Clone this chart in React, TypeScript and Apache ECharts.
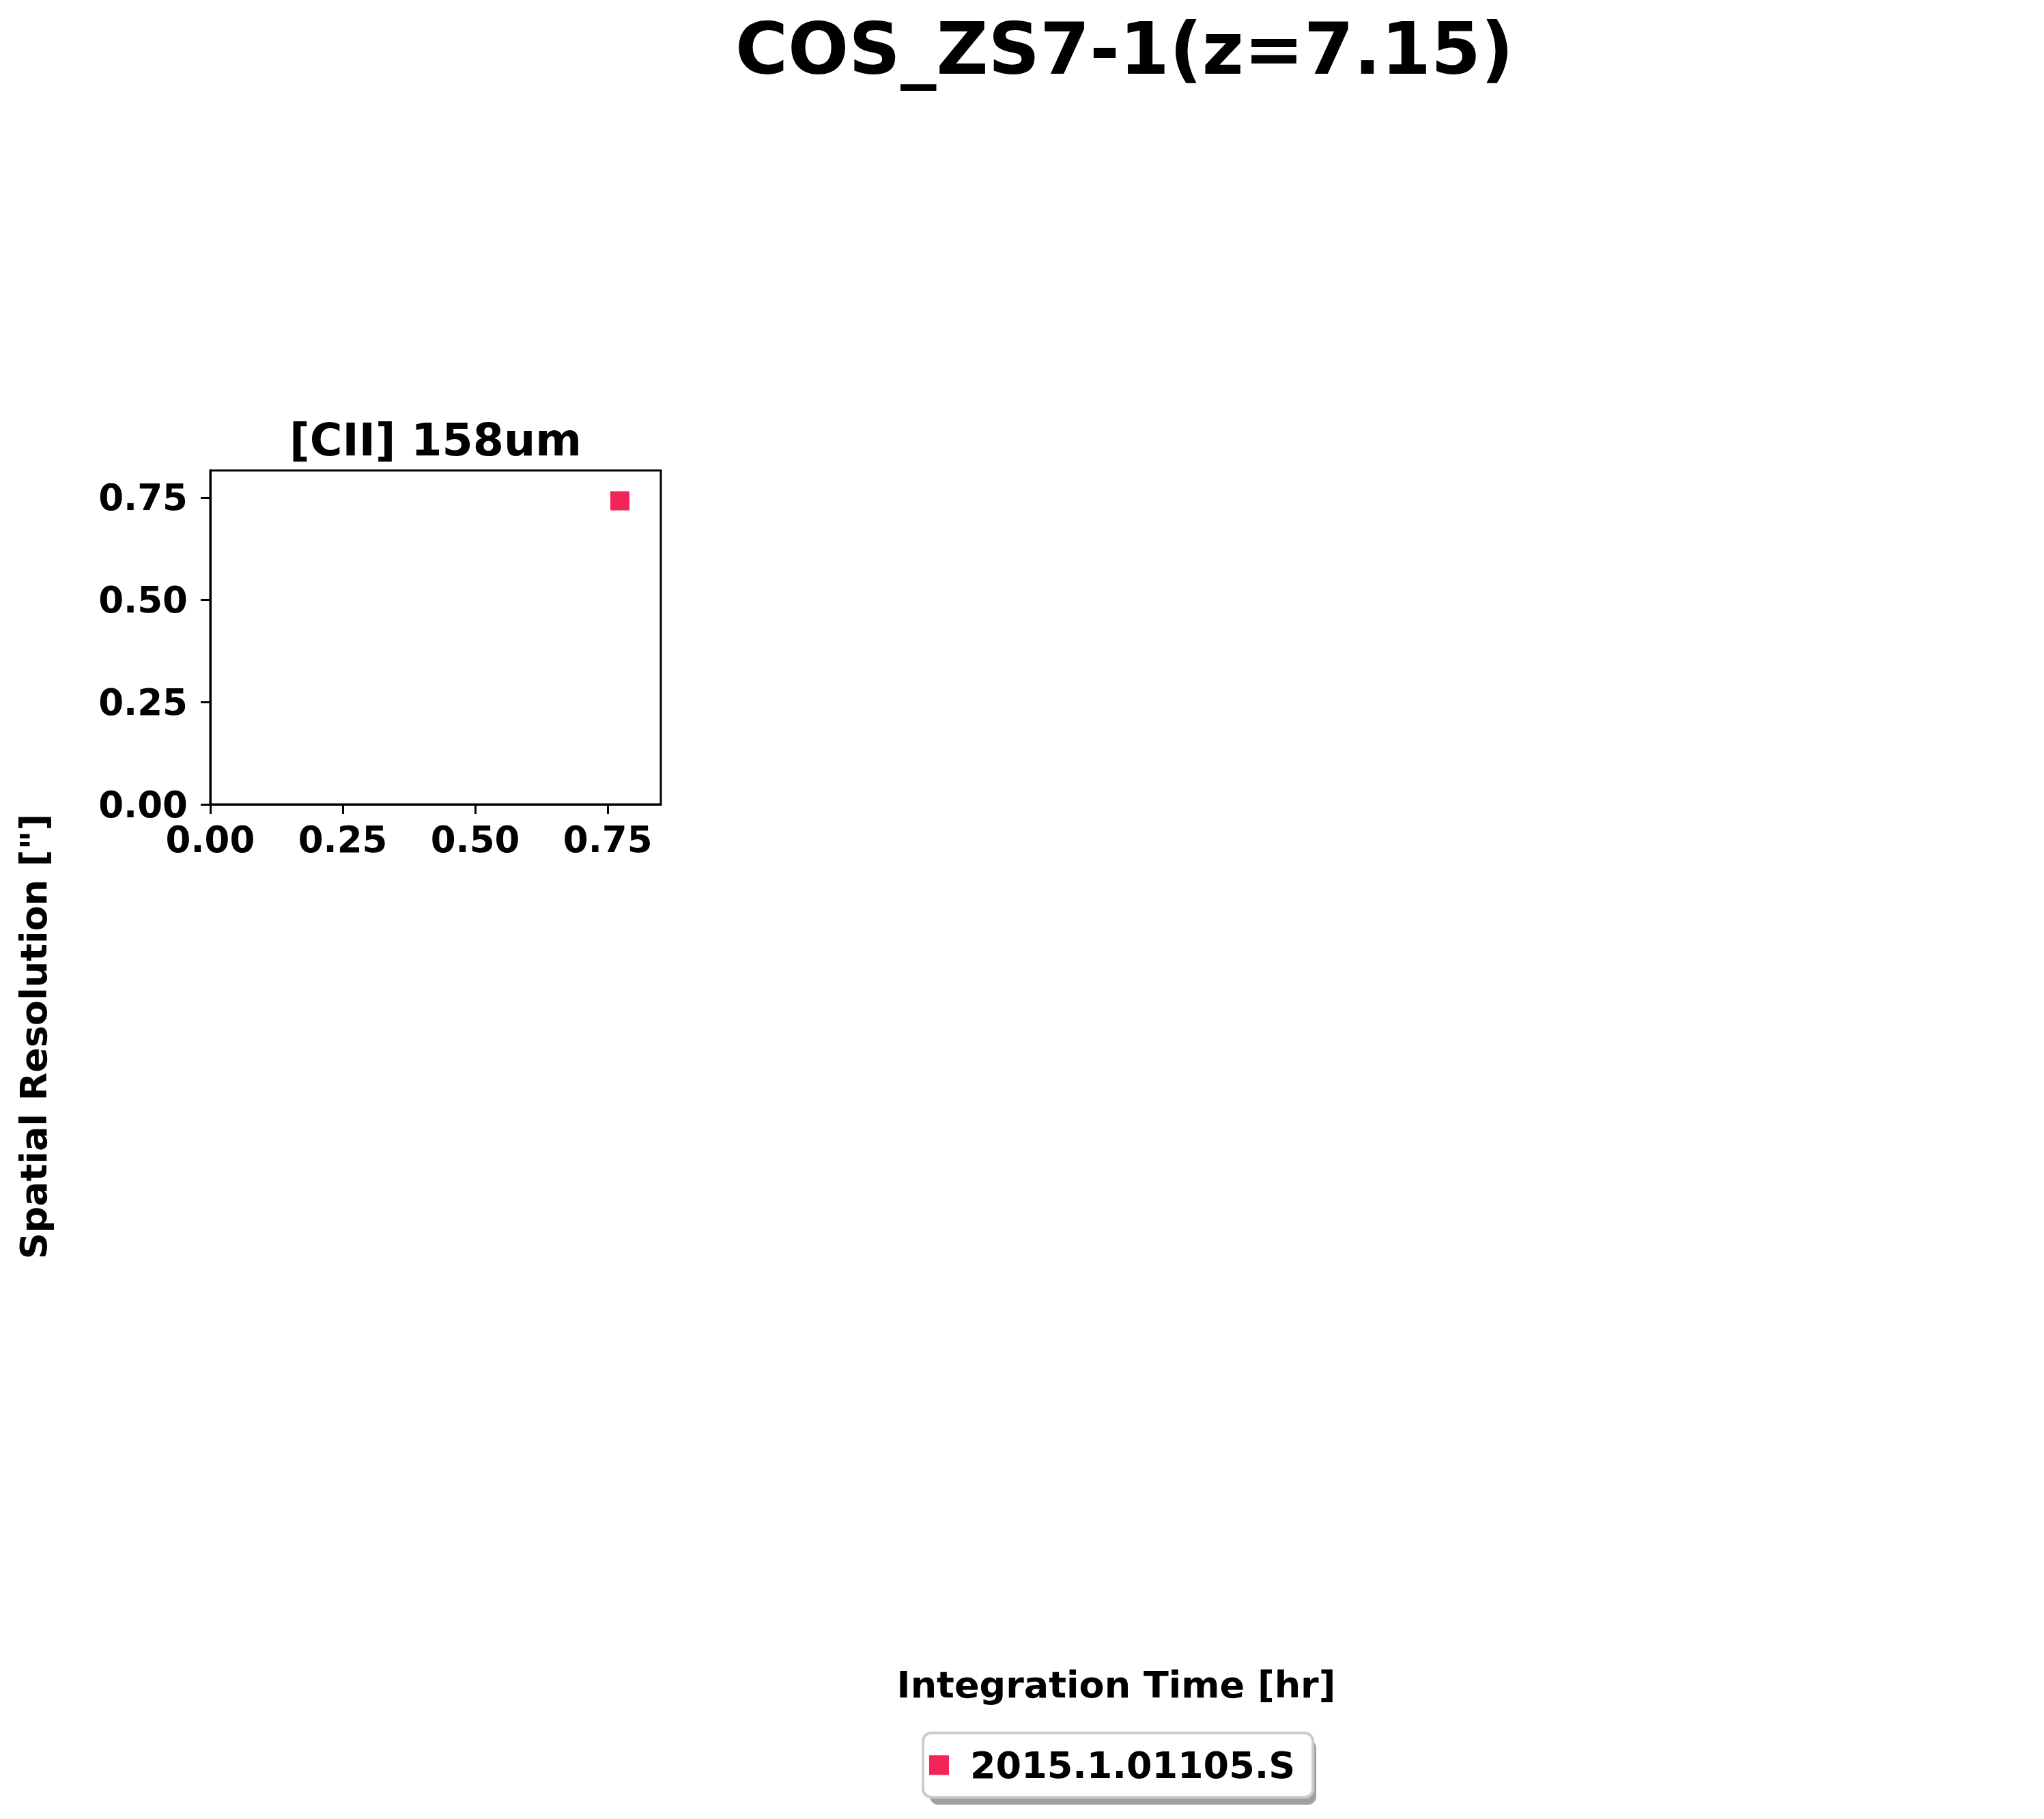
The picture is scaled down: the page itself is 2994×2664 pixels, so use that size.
import React, { useEffect, useRef } from "react";
import * as echarts from "echarts";

// ---- data ----
const FIG_TITLE = "COS_ZS7-1(z=7.15)";
const PANEL_TITLE = "[CII] 158um";
const X_LABEL = "Integration Time [hr]";
const Y_LABEL = 'Spatial Resolution ["]';
const SERIES_NAMES = ["2015.1.01105.S"];
const INTEGRATION_TIME = [0.773];
const RESOLUTION = [0.7425];
const X_TICKS = [0, 0.25, 0.5, 0.75];
const Y_TICKS = [0, 0.25, 0.5, 0.75];
const MARKER_COLOR = "#F42456";

const FONT = "DejaVu Sans";

export default function App() {
  const ref = useRef<HTMLDivElement>(null);

  useEffect(() => {
    document.body.style.margin = "0";
    document.body.style.overflow = "hidden";
    if (!ref.current) return;
    const chart = echarts.init(ref.current, undefined, { renderer: "svg" });

    const xMax = Math.max(...INTEGRATION_TIME) * 1.1;
    const yMax = Math.max(...RESOLUTION) * 1.1;
    const fmt = (v: number) => {
      const ok = X_TICKS.concat(Y_TICKS).some((t) => Math.abs(t - v) < 1e-6);
      return ok ? v.toFixed(2) : "";
    };
    const labelStyle = {
      color: "#000",
      fontFamily: FONT,
      fontWeight: "bold" as const,
      fontSize: 53,
      lineHeight: 53,
    };

    const option: any = {
      animation: false,
      backgroundColor: "#ffffff",
      grid: {
        left: 308,
        top: 689,
        width: 660,
        height: 489,
        show: true,
        borderColor: "#000",
        borderWidth: 3,
        backgroundColor: "transparent",
        containLabel: false,
      },
      xAxis: {
        type: "value",
        min: 0,
        max: xMax,
        interval: 0.25,
        splitLine: { show: false },
        axisLine: { show: true, onZero: false, lineStyle: { color: "#000", width: 3 } },
        axisTick: {
          show: true,
          length: 14,
          customValues: X_TICKS,
          lineStyle: { color: "#000", width: 3 },
        },
        axisLabel: {
          ...labelStyle,
          customValues: X_TICKS,
          margin: 25,
          formatter: fmt,
        },
      },
      yAxis: {
        type: "value",
        min: 0,
        max: yMax,
        interval: 0.25,
        splitLine: { show: false },
        axisLine: { show: true, onZero: false, lineStyle: { color: "#000", width: 3 } },
        axisTick: {
          show: true,
          length: 14,
          customValues: Y_TICKS,
          lineStyle: { color: "#000", width: 3 },
        },
        axisLabel: {
          ...labelStyle,
          customValues: Y_TICKS,
          margin: 33,
          formatter: fmt,
        },
      },
      legend: {
        show: true,
        data: SERIES_NAMES,
        left: 1352,
        top: 2538,
        orient: "horizontal",
        icon: "rect",
        itemWidth: 29,
        itemHeight: 29,
        padding: [20, 26, 20, 9],
        itemStyle: { opacity: 1 },
        textStyle: {
          fontFamily: FONT,
          fontWeight: "bold",
          fontSize: 54,
          color: "#000",
          padding: [0, 0, 0, 26],
        },
        backgroundColor: "#ffffff",
        borderColor: "#cccccc",
        borderWidth: 4,
        borderRadius: 12,
        z: 10,
      },
      series: SERIES_NAMES.map((name) => ({
        type: "scatter",
        name,
        data: INTEGRATION_TIME.map((x, i) => [x, RESOLUTION[i]]),
        symbol: "rect",
        symbolSize: 28,
        itemStyle: { color: MARKER_COLOR, opacity: 1 },
      })),
      graphic: [
        {
          type: "rect",
          z: 1,
          shape: { x: 1362, y: 2548, width: 566, height: 95, r: 12 },
          style: { fill: "#a0a0a0" },
        },
        {
          type: "text",
          x: 1647,
          y: 72,
          style: {
            text: FIG_TITLE,
            fontFamily: FONT,
            fontWeight: "bold",
            fontSize: 105,
            fill: "#000",
            align: "center",
            verticalAlign: "middle",
            textAlign: "center",
            textVerticalAlign: "middle",
          },
        },
        {
          type: "text",
          x: 638,
          y: 644,
          style: {
            text: PANEL_TITLE,
            fontFamily: FONT,
            fontWeight: "bold",
            fontSize: 65,
            fill: "#000",
            align: "center",
            verticalAlign: "middle",
            textAlign: "center",
            textVerticalAlign: "middle",
          },
        },
        {
          type: "text",
          x: 1635,
          y: 2467,
          style: {
            text: X_LABEL,
            fontFamily: FONT,
            fontWeight: "bold",
            fontSize: 54,
            fill: "#000",
            align: "center",
            verticalAlign: "middle",
            textAlign: "center",
            textVerticalAlign: "middle",
          },
        },
        {
          type: "text",
          x: 49,
          y: 1518,
          rotation: Math.PI / 2,
          style: {
            text: Y_LABEL,
            fontFamily: FONT,
            fontWeight: "bold",
            fontSize: 54,
            fill: "#000",
            align: "center",
            verticalAlign: "middle",
            textAlign: "center",
            textVerticalAlign: "middle",
          },
        },
      ],
    };

    chart.setOption(option);
    return () => {
      chart.dispose();
    };
  }, []);

  return <div ref={ref} style={{ width: 2994, height: 2664 }} />;
}
